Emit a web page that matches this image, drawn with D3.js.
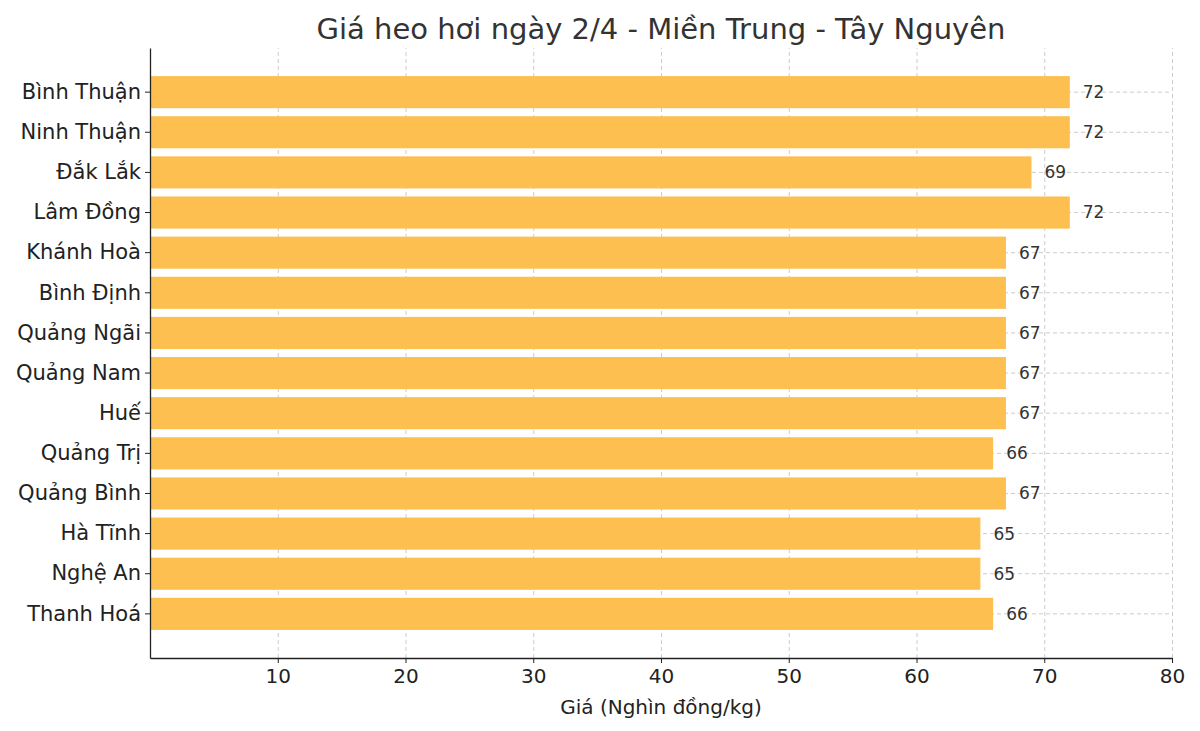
<!DOCTYPE html>
<html>
<head>
<meta charset="utf-8">
<script src="https://cdn.jsdelivr.net/npm/d3@7"></script>
<style>
body { margin: 0; background: #fff; font-family: "DejaVu Sans", sans-serif; }
.grid line { stroke: #ccc; stroke-dasharray: 4,3; }
.grid path { display: none; }
</style>
</head>
<body>
<div id="chart"></div>
<script>
var provinces = ["Bình Thuận", "Ninh Thuận", "Đắk Lắk", "Lâm Đồng", "Khánh Hoà", "Bình Định",
    "Quảng Ngãi", "Quảng Nam", "Huế", "Quảng Trị", "Quảng Bình", "Hà Tĩnh", "Nghệ An", "Thanh Hoá"];
var prices = [72, 72, 69, 72, 67, 67, 67, 67, 67, 66, 67, 65, 65, 66];
var xTicks = [10, 20, 30, 40, 50, 60, 70, 80];

var svgWidth = 1200, svgHeight = 731;
var margin = { top: 48, bottom: 73, left: 150, right: 28 };
var width = svgWidth - margin.left - margin.right;
var height = svgHeight - margin.top - margin.bottom;

var data = provinces.map((p, i) => ({ name: p, value: prices[i] }));

var svg = d3.select("#chart").append("svg")
    .attr("width", svgWidth).attr("height", svgHeight);

var chartGroup = svg.append("g")
    .attr("transform", `translate(${margin.left}, ${margin.top})`);

var x = d3.scaleLinear().domain([0, 80]).range([0, width]);
var y = d3.scaleBand().domain(provinces).range([0, height])
    .paddingInner(0.2).paddingOuter(0.7);

// grid
chartGroup.append("g").attr("class", "grid")
    .attr("transform", `translate(0, ${height})`)
    .call(d3.axisBottom(x).tickValues(xTicks).tickSize(-height).tickFormat(""));
chartGroup.append("g").attr("class", "grid")
    .call(d3.axisLeft(y).tickSize(-width).tickFormat(""));

chartGroup.selectAll("rect.bar")
    .data(data)
    .enter()
    .append("rect")
    .attr("class", "bar")
    .attr("x", 0)
    .attr("y", d => y(d.name))
    .attr("width", d => x(d.value))
    .attr("height", y.bandwidth())
    .attr("fill", "#fdbf4f");

chartGroup.selectAll("text.val")
    .data(data)
    .enter()
    .append("text")
    .attr("class", "val")
    .attr("x", d => x(d.value) + 13)
    .attr("y", d => y(d.name) + y.bandwidth() / 2)
    .attr("dy", "0.35em")
    .attr("font-size", 17)
    .attr("fill", "#333")
    .text(d => d.value);

var xAxis = chartGroup.append("g")
    .attr("transform", `translate(0, ${height})`)
    .call(d3.axisBottom(x).tickValues(xTicks).tickSize(5).tickSizeOuter(0).tickPadding(6));
var yAxis = chartGroup.append("g")
    .call(d3.axisLeft(y).tickSize(5).tickSizeOuter(0).tickPadding(4));

[xAxis, yAxis].forEach(a => {
    a.selectAll("text").attr("font-size", 21).attr("fill", "#222")
        .attr("font-family", "DejaVu Sans, sans-serif");
    a.select(".domain").attr("stroke", "#222").attr("stroke-width", 1.3);
    a.selectAll(".tick line").attr("stroke", "#222");
});
xAxis.selectAll("text").attr("font-size", 20);

svg.append("text")
    .attr("x", margin.left + width / 2)
    .attr("y", 714)
    .attr("text-anchor", "middle")
    .attr("font-size", 20)
    .attr("fill", "#222")
    .text("Giá (Nghìn đồng/kg)");

svg.append("text")
    .attr("x", margin.left + width / 2)
    .attr("y", 39)
    .attr("text-anchor", "middle")
    .attr("font-size", 29)
    .attr("fill", "#333")
    .text("Giá heo hơi ngày 2/4 - Miền Trung - Tây Nguyên");
</script>
</body>
</html>
